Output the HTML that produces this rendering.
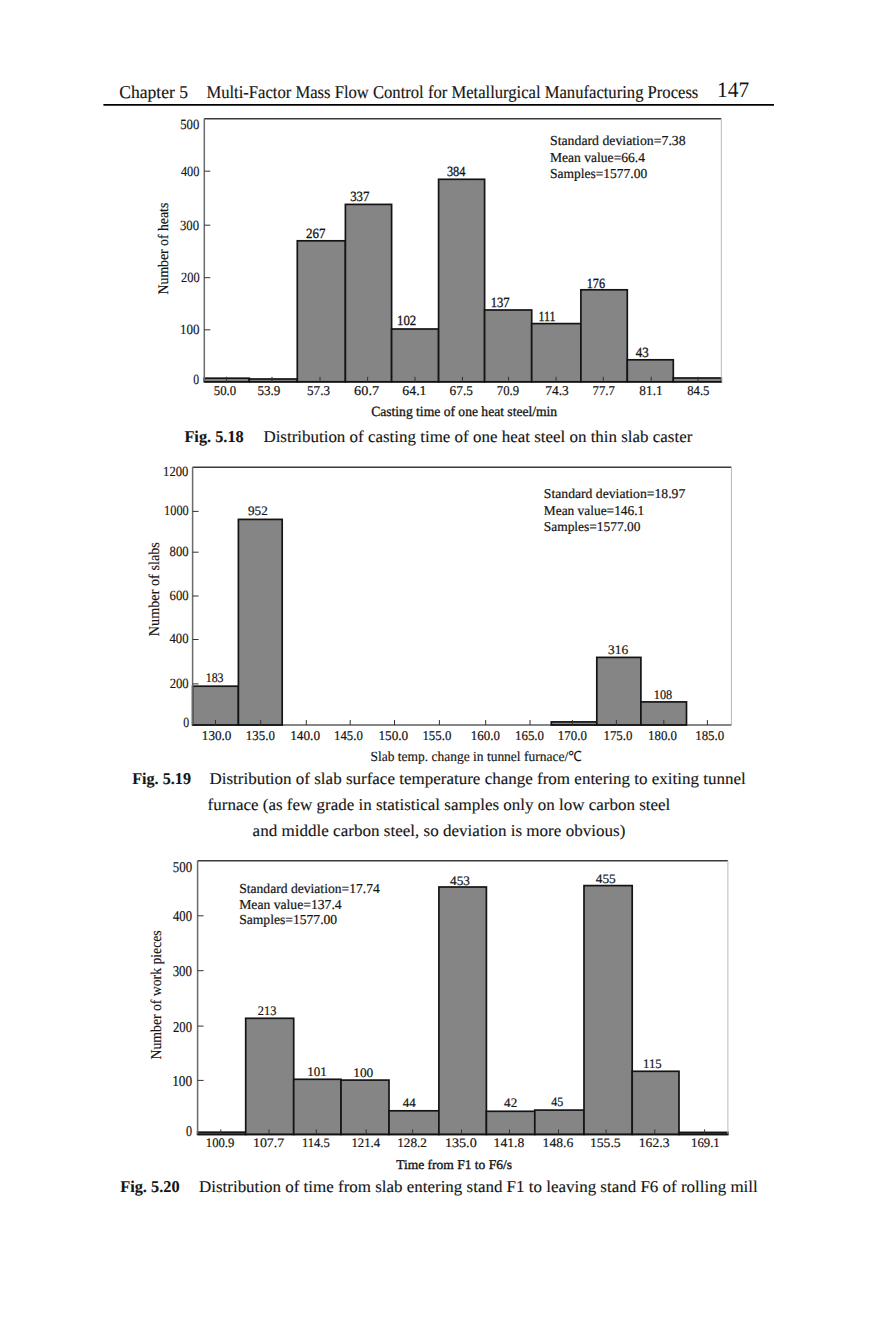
<!DOCTYPE html>
<html><head><meta charset="utf-8"><title>Fig. 5.18 - 5.20</title>
<style>
html,body{margin:0;padding:0;background:#fff;}
body{width:879px;height:1332px;overflow:hidden;}
svg{display:block;font-family:"Liberation Serif", "Times New Roman", serif;fill:#141414;text-rendering:geometricPrecision;}
</style></head><body>
<svg width="879" height="1332" viewBox="0 0 879 1332">
<line x1="103.4" y1="104.85" x2="774" y2="104.85" stroke="#000" stroke-width="1.8"/>
<rect x="204.30" y="378.20" width="45.00" height="3.60" fill="#858585" stroke="#141414" stroke-width="1.7"/>
<rect x="249.30" y="379.00" width="48.00" height="2.80" fill="#858585" stroke="#141414" stroke-width="1.7"/>
<rect x="297.30" y="240.80" width="48.10" height="141.00" fill="#858585" stroke="#141414" stroke-width="1.7"/>
<rect x="345.40" y="204.40" width="46.20" height="177.40" fill="#858585" stroke="#141414" stroke-width="1.7"/>
<rect x="391.60" y="329.00" width="47.00" height="52.80" fill="#858585" stroke="#141414" stroke-width="1.7"/>
<rect x="438.60" y="179.30" width="46.00" height="202.50" fill="#858585" stroke="#141414" stroke-width="1.7"/>
<rect x="484.60" y="310.00" width="47.10" height="71.80" fill="#858585" stroke="#141414" stroke-width="1.7"/>
<rect x="531.70" y="323.60" width="49.20" height="58.20" fill="#858585" stroke="#141414" stroke-width="1.7"/>
<rect x="580.90" y="289.80" width="46.40" height="92.00" fill="#858585" stroke="#141414" stroke-width="1.7"/>
<rect x="627.30" y="359.80" width="46.00" height="22.00" fill="#858585" stroke="#141414" stroke-width="1.7"/>
<rect x="673.30" y="378.00" width="48.00" height="3.80" fill="#858585" stroke="#141414" stroke-width="1.7"/>
<line x1="204.3" y1="118.75" x2="721.3" y2="118.75" stroke="#3a3a3a" stroke-width="1.6"/>
<line x1="204.3" y1="118.75" x2="204.3" y2="381.8" stroke="#6a6a6a" stroke-width="1.5"/>
<line x1="721.3" y1="118.75" x2="721.3" y2="381.8" stroke="#b8b8b8" stroke-width="1.0"/>
<line x1="204.3" y1="381.8" x2="721.3" y2="381.8" stroke="#111" stroke-width="1.5"/>
<line x1="204.3" y1="329.8" x2="210.3" y2="329.8" stroke="#333" stroke-width="1.0"/>
<line x1="204.3" y1="277.7" x2="210.3" y2="277.7" stroke="#333" stroke-width="1.0"/>
<line x1="204.3" y1="225.2" x2="210.3" y2="225.2" stroke="#333" stroke-width="1.0"/>
<line x1="204.3" y1="171.2" x2="210.3" y2="171.2" stroke="#333" stroke-width="1.0"/>
<line x1="226.6" y1="381.8" x2="226.6" y2="376.8" stroke="#333" stroke-width="1.0"/>
<line x1="272" y1="381.8" x2="272" y2="376.8" stroke="#333" stroke-width="1.0"/>
<line x1="320" y1="381.8" x2="320" y2="376.8" stroke="#333" stroke-width="1.0"/>
<line x1="367.6" y1="381.8" x2="367.6" y2="376.8" stroke="#333" stroke-width="1.0"/>
<line x1="415" y1="381.8" x2="415" y2="376.8" stroke="#333" stroke-width="1.0"/>
<line x1="462.4" y1="381.8" x2="462.4" y2="376.8" stroke="#333" stroke-width="1.0"/>
<line x1="508.6" y1="381.8" x2="508.6" y2="376.8" stroke="#333" stroke-width="1.0"/>
<line x1="556.1" y1="381.8" x2="556.1" y2="376.8" stroke="#333" stroke-width="1.0"/>
<line x1="603.3" y1="381.8" x2="603.3" y2="376.8" stroke="#333" stroke-width="1.0"/>
<line x1="651.2" y1="381.8" x2="651.2" y2="376.8" stroke="#333" stroke-width="1.0"/>
<line x1="698" y1="381.8" x2="698" y2="376.8" stroke="#333" stroke-width="1.0"/>
<rect x="192.60" y="686.20" width="45.80" height="38.80" fill="#858585" stroke="#141414" stroke-width="1.7"/>
<rect x="238.40" y="519.40" width="43.80" height="205.60" fill="#858585" stroke="#141414" stroke-width="1.7"/>
<rect x="551.30" y="721.90" width="45.50" height="3.10" fill="#858585" stroke="#141414" stroke-width="1.7"/>
<rect x="596.80" y="657.40" width="44.10" height="67.60" fill="#858585" stroke="#141414" stroke-width="1.7"/>
<rect x="640.90" y="701.90" width="45.60" height="23.10" fill="#858585" stroke="#141414" stroke-width="1.7"/>
<line x1="192.6" y1="467.2" x2="731.4" y2="467.2" stroke="#3a3a3a" stroke-width="1.6"/>
<line x1="192.6" y1="467.2" x2="192.6" y2="725.0" stroke="#6a6a6a" stroke-width="1.5"/>
<line x1="731.4" y1="467.2" x2="731.4" y2="725.0" stroke="#b8b8b8" stroke-width="1.0"/>
<line x1="192.6" y1="725.0" x2="731.4" y2="725.0" stroke="#111" stroke-width="1.2"/>
<line x1="192.6" y1="683.9" x2="198.6" y2="683.9" stroke="#333" stroke-width="1.0"/>
<line x1="192.6" y1="639.5" x2="198.6" y2="639.5" stroke="#333" stroke-width="1.0"/>
<line x1="192.6" y1="596.0" x2="198.6" y2="596.0" stroke="#333" stroke-width="1.0"/>
<line x1="192.6" y1="552.2" x2="198.6" y2="552.2" stroke="#333" stroke-width="1.0"/>
<line x1="192.6" y1="511.4" x2="198.6" y2="511.4" stroke="#333" stroke-width="1.0"/>
<line x1="215.5" y1="725.0" x2="215.5" y2="720.0" stroke="#333" stroke-width="1.0"/>
<line x1="260.7" y1="725.0" x2="260.7" y2="720.0" stroke="#333" stroke-width="1.0"/>
<line x1="306.3" y1="725.0" x2="306.3" y2="720.0" stroke="#333" stroke-width="1.0"/>
<line x1="350.2" y1="725.0" x2="350.2" y2="720.0" stroke="#333" stroke-width="1.0"/>
<line x1="394.5" y1="725.0" x2="394.5" y2="720.0" stroke="#333" stroke-width="1.0"/>
<line x1="439.4" y1="725.0" x2="439.4" y2="720.0" stroke="#333" stroke-width="1.0"/>
<line x1="485.7" y1="725.0" x2="485.7" y2="720.0" stroke="#333" stroke-width="1.0"/>
<line x1="530" y1="725.0" x2="530" y2="720.0" stroke="#333" stroke-width="1.0"/>
<line x1="572.4" y1="725.0" x2="572.4" y2="720.0" stroke="#333" stroke-width="1.0"/>
<line x1="616.4" y1="725.0" x2="616.4" y2="720.0" stroke="#333" stroke-width="1.0"/>
<line x1="663.8" y1="725.0" x2="663.8" y2="720.0" stroke="#333" stroke-width="1.0"/>
<line x1="707.4" y1="725.0" x2="707.4" y2="720.0" stroke="#333" stroke-width="1.0"/>
<rect x="197.60" y="1132.20" width="48.10" height="2.20" fill="#858585" stroke="#141414" stroke-width="1.7"/>
<rect x="245.70" y="1018.30" width="48.00" height="116.10" fill="#858585" stroke="#141414" stroke-width="1.7"/>
<rect x="293.70" y="1079.30" width="47.30" height="55.10" fill="#858585" stroke="#141414" stroke-width="1.7"/>
<rect x="341.00" y="1080.10" width="48.00" height="54.30" fill="#858585" stroke="#141414" stroke-width="1.7"/>
<rect x="389.00" y="1110.80" width="49.90" height="23.60" fill="#858585" stroke="#141414" stroke-width="1.7"/>
<rect x="438.90" y="887.00" width="47.50" height="247.40" fill="#858585" stroke="#141414" stroke-width="1.7"/>
<rect x="486.40" y="1111.30" width="48.40" height="23.10" fill="#858585" stroke="#141414" stroke-width="1.7"/>
<rect x="534.80" y="1110.10" width="49.20" height="24.30" fill="#858585" stroke="#141414" stroke-width="1.7"/>
<rect x="584.00" y="885.60" width="48.20" height="248.80" fill="#858585" stroke="#141414" stroke-width="1.7"/>
<rect x="632.20" y="1071.30" width="46.80" height="63.10" fill="#858585" stroke="#141414" stroke-width="1.7"/>
<rect x="679.00" y="1132.40" width="48.90" height="2.00" fill="#858585" stroke="#141414" stroke-width="1.7"/>
<line x1="197.6" y1="860.7" x2="727.9" y2="860.7" stroke="#3a3a3a" stroke-width="1.6"/>
<line x1="197.6" y1="860.7" x2="197.6" y2="1134.4" stroke="#6a6a6a" stroke-width="1.5"/>
<line x1="727.9" y1="860.7" x2="727.9" y2="1134.4" stroke="#b8b8b8" stroke-width="1.0"/>
<line x1="197.6" y1="1134.4" x2="727.9" y2="1134.4" stroke="#111" stroke-width="1.5"/>
<line x1="197.6" y1="1080.4" x2="203.6" y2="1080.4" stroke="#333" stroke-width="1.0"/>
<line x1="197.6" y1="1026.1" x2="203.6" y2="1026.1" stroke="#333" stroke-width="1.0"/>
<line x1="197.6" y1="970.7" x2="203.6" y2="970.7" stroke="#333" stroke-width="1.0"/>
<line x1="197.6" y1="915.8" x2="203.6" y2="915.8" stroke="#333" stroke-width="1.0"/>
<line x1="220.8" y1="1134.4" x2="220.8" y2="1129.4" stroke="#333" stroke-width="1.0"/>
<line x1="269" y1="1134.4" x2="269" y2="1129.4" stroke="#333" stroke-width="1.0"/>
<line x1="316.3" y1="1134.4" x2="316.3" y2="1129.4" stroke="#333" stroke-width="1.0"/>
<line x1="366.2" y1="1134.4" x2="366.2" y2="1129.4" stroke="#333" stroke-width="1.0"/>
<line x1="412.6" y1="1134.4" x2="412.6" y2="1129.4" stroke="#333" stroke-width="1.0"/>
<line x1="461.5" y1="1134.4" x2="461.5" y2="1129.4" stroke="#333" stroke-width="1.0"/>
<line x1="509.5" y1="1134.4" x2="509.5" y2="1129.4" stroke="#333" stroke-width="1.0"/>
<line x1="558.5" y1="1134.4" x2="558.5" y2="1129.4" stroke="#333" stroke-width="1.0"/>
<line x1="606.1" y1="1134.4" x2="606.1" y2="1129.4" stroke="#333" stroke-width="1.0"/>
<line x1="654.8" y1="1134.4" x2="654.8" y2="1129.4" stroke="#333" stroke-width="1.0"/>
<line x1="704.6" y1="1134.4" x2="704.6" y2="1129.4" stroke="#333" stroke-width="1.0"/>
<text id="t0" x="119.19" y="97.5" font-size="18" textLength="68.76" lengthAdjust="spacingAndGlyphs" stroke="#141414" stroke-width="0.15">Chapter 5</text>
<text id="t1" x="206.43" y="97.5" font-size="18" textLength="491.92" lengthAdjust="spacingAndGlyphs" stroke="#141414" stroke-width="0.15">Multi-Factor Mass Flow Control for Metallurgical Manufacturing Process</text>
<text id="t2" x="717.01" y="96.8" font-size="22" textLength="32.12" lengthAdjust="spacingAndGlyphs">147</text>
<text id="t3" x="193.35" y="383.6" font-size="14" textLength="5.87" lengthAdjust="spacingAndGlyphs" stroke="#141414" stroke-width="0.15">0</text>
<text id="t4" x="180.08" y="334.2" font-size="14" textLength="19.51" lengthAdjust="spacingAndGlyphs" stroke="#141414" stroke-width="0.15">100</text>
<text id="t5" x="181.04" y="282.0" font-size="14" textLength="18.58" lengthAdjust="spacingAndGlyphs" stroke="#141414" stroke-width="0.15">200</text>
<text id="t6" x="180.00" y="229.5" font-size="14" textLength="19.07" lengthAdjust="spacingAndGlyphs" stroke="#141414" stroke-width="0.15">300</text>
<text id="t7" x="180.92" y="176.0" font-size="14" textLength="18.50" lengthAdjust="spacingAndGlyphs" stroke="#141414" stroke-width="0.15">400</text>
<text id="t8" x="180.18" y="128.5" font-size="14" textLength="19.08" lengthAdjust="spacingAndGlyphs" stroke="#141414" stroke-width="0.15">500</text>
<text id="t9" x="213.77" y="394.7" font-size="13.5" textLength="22.37" lengthAdjust="spacingAndGlyphs" stroke="#141414" stroke-width="0.2">50.0</text>
<text id="t10" x="257.39" y="394.7" font-size="13.5" textLength="22.92" lengthAdjust="spacingAndGlyphs" stroke="#141414" stroke-width="0.2">53.9</text>
<text id="t11" x="307.00" y="394.7" font-size="13.5" textLength="23.00" lengthAdjust="spacingAndGlyphs" stroke="#141414" stroke-width="0.2">57.3</text>
<text id="t12" x="354.14" y="394.7" font-size="13.5" textLength="24.97" lengthAdjust="spacingAndGlyphs" stroke="#141414" stroke-width="0.2">60.7</text>
<text id="t13" x="402.39" y="394.7" font-size="13.5" textLength="24.07" lengthAdjust="spacingAndGlyphs" stroke="#141414" stroke-width="0.2">64.1</text>
<text id="t14" x="449.61" y="394.7" font-size="13.5" textLength="23.26" lengthAdjust="spacingAndGlyphs" stroke="#141414" stroke-width="0.2">67.5</text>
<text id="t15" x="496.83" y="394.7" font-size="13.5" textLength="22.29" lengthAdjust="spacingAndGlyphs" stroke="#141414" stroke-width="0.2">70.9</text>
<text id="t16" x="545.37" y="394.7" font-size="13.5" textLength="23.39" lengthAdjust="spacingAndGlyphs" stroke="#141414" stroke-width="0.2">74.3</text>
<text id="t17" x="592.60" y="394.7" font-size="13.5" textLength="22.33" lengthAdjust="spacingAndGlyphs" stroke="#141414" stroke-width="0.2">77.7</text>
<text id="t18" x="639.33" y="394.7" font-size="13.5" textLength="23.28" lengthAdjust="spacingAndGlyphs" stroke="#141414" stroke-width="0.2">81.1</text>
<text id="t19" x="687.16" y="394.7" font-size="13.5" textLength="22.33" lengthAdjust="spacingAndGlyphs" stroke="#141414" stroke-width="0.2">84.5</text>
<text id="t20" x="305.96" y="238.4" font-size="14" textLength="19.50" lengthAdjust="spacingAndGlyphs" stroke="#141414" stroke-width="0.3">267</text>
<text id="t21" x="350.14" y="201.2" font-size="14" textLength="19.32" lengthAdjust="spacingAndGlyphs" stroke="#141414" stroke-width="0.3">337</text>
<text id="t22" x="397.06" y="325.3" font-size="14" textLength="19.21" lengthAdjust="spacingAndGlyphs" stroke="#141414" stroke-width="0.3">102</text>
<text id="t23" x="446.95" y="175.5" font-size="14" textLength="18.55" lengthAdjust="spacingAndGlyphs" stroke="#141414" stroke-width="0.3">384</text>
<text id="t24" x="490.65" y="306.5" font-size="14" textLength="19.03" lengthAdjust="spacingAndGlyphs" stroke="#141414" stroke-width="0.3">137</text>
<text id="t25" x="538.53" y="321.2" font-size="14" textLength="17.07" lengthAdjust="spacingAndGlyphs" stroke="#141414" stroke-width="0.3">111</text>
<text id="t26" x="586.68" y="287.7" font-size="14" textLength="18.36" lengthAdjust="spacingAndGlyphs" stroke="#141414" stroke-width="0.3">176</text>
<text id="t27" x="635.66" y="357" font-size="14" textLength="13.01" lengthAdjust="spacingAndGlyphs" stroke="#141414" stroke-width="0.3">43</text>
<text id="t28" x="550.00" y="145.0" font-size="13.7" textLength="135.61" lengthAdjust="spacingAndGlyphs" stroke="#141414" stroke-width="0.2">Standard deviation=7.38</text>
<text id="t29" x="550.00" y="161.9" font-size="13.7" textLength="95.01" lengthAdjust="spacingAndGlyphs" stroke="#141414" stroke-width="0.2">Mean value=66.4</text>
<text id="t30" x="550.00" y="177.8" font-size="13.7" textLength="97.19" lengthAdjust="spacingAndGlyphs" stroke="#141414" stroke-width="0.2">Samples=1577.00</text>
<text id="t31" x="371.20" y="416.4" font-size="14" textLength="185.98" lengthAdjust="spacingAndGlyphs" stroke="#141414" stroke-width="0.3">Casting time of one heat steel/min</text>
<text id="t32" x="0" y="0" font-size="14.5" textLength="91.65" lengthAdjust="spacingAndGlyphs" stroke="#141414" stroke-width="0.2" transform="translate(167.7,294.40) rotate(-90)">Number of heats</text>
<text id="t33" x="184.39" y="442.3" font-size="16.5" font-weight="bold" textLength="59.39" lengthAdjust="spacingAndGlyphs" stroke="#141414" stroke-width="0.1">Fig. 5.18</text>
<text id="t34" x="263.41" y="442.4" font-size="16.5" textLength="428.93" lengthAdjust="spacingAndGlyphs" stroke="#141414" stroke-width="0.12">Distribution of casting time of one heat steel on thin slab caster</text>
<text id="t35" x="183.36" y="726.6" font-size="14" textLength="5.88" lengthAdjust="spacingAndGlyphs" stroke="#141414" stroke-width="0.15">0</text>
<text id="t36" x="169.64" y="687.6" font-size="14" textLength="19.07" lengthAdjust="spacingAndGlyphs" stroke="#141414" stroke-width="0.15">200</text>
<text id="t37" x="169.48" y="643.2" font-size="14" textLength="19.12" lengthAdjust="spacingAndGlyphs" stroke="#141414" stroke-width="0.15">400</text>
<text id="t38" x="169.57" y="599.7" font-size="14" textLength="19.03" lengthAdjust="spacingAndGlyphs" stroke="#141414" stroke-width="0.15">600</text>
<text id="t39" x="169.57" y="555.9" font-size="14" textLength="19.03" lengthAdjust="spacingAndGlyphs" stroke="#141414" stroke-width="0.15">800</text>
<text id="t40" x="164.08" y="514.8" font-size="14" textLength="24.67" lengthAdjust="spacingAndGlyphs" stroke="#141414" stroke-width="0.15">1000</text>
<text id="t41" x="163.10" y="476.3" font-size="14" textLength="25.23" lengthAdjust="spacingAndGlyphs" stroke="#141414" stroke-width="0.15">1200</text>
<text id="t42" x="201.82" y="739.6" font-size="13.5" textLength="29.57" lengthAdjust="spacingAndGlyphs" stroke="#141414" stroke-width="0.2">130.0</text>
<text id="t43" x="245.83" y="739.6" font-size="13.5" textLength="29.05" lengthAdjust="spacingAndGlyphs" stroke="#141414" stroke-width="0.2">135.0</text>
<text id="t44" x="290.21" y="739.6" font-size="13.5" textLength="29.88" lengthAdjust="spacingAndGlyphs" stroke="#141414" stroke-width="0.2">140.0</text>
<text id="t45" x="334.07" y="739.6" font-size="13.5" textLength="28.74" lengthAdjust="spacingAndGlyphs" stroke="#141414" stroke-width="0.2">145.0</text>
<text id="t46" x="378.42" y="739.6" font-size="13.5" textLength="29.78" lengthAdjust="spacingAndGlyphs" stroke="#141414" stroke-width="0.2">150.0</text>
<text id="t47" x="422.43" y="739.6" font-size="13.5" textLength="28.88" lengthAdjust="spacingAndGlyphs" stroke="#141414" stroke-width="0.2">155.0</text>
<text id="t48" x="470.85" y="739.6" font-size="13.5" textLength="28.97" lengthAdjust="spacingAndGlyphs" stroke="#141414" stroke-width="0.2">160.0</text>
<text id="t49" x="515.03" y="739.6" font-size="13.5" textLength="28.97" lengthAdjust="spacingAndGlyphs" stroke="#141414" stroke-width="0.2">165.0</text>
<text id="t50" x="557.85" y="739.6" font-size="13.5" textLength="28.97" lengthAdjust="spacingAndGlyphs" stroke="#141414" stroke-width="0.2">170.0</text>
<text id="t51" x="603.45" y="739.6" font-size="13.5" textLength="28.97" lengthAdjust="spacingAndGlyphs" stroke="#141414" stroke-width="0.2">175.0</text>
<text id="t52" x="648.03" y="739.6" font-size="13.5" textLength="28.97" lengthAdjust="spacingAndGlyphs" stroke="#141414" stroke-width="0.2">180.0</text>
<text id="t53" x="695.23" y="739.6" font-size="13.5" textLength="28.94" lengthAdjust="spacingAndGlyphs" stroke="#141414" stroke-width="0.2">185.0</text>
<text id="t54" x="205.67" y="682.2" font-size="13" textLength="17.95" lengthAdjust="spacingAndGlyphs" stroke="#141414" stroke-width="0.2">183</text>
<text id="t55" x="248.00" y="514.8" font-size="13" textLength="19.70" lengthAdjust="spacingAndGlyphs" stroke="#141414" stroke-width="0.2">952</text>
<text id="t56" x="608.14" y="653.7" font-size="13" textLength="20.10" lengthAdjust="spacingAndGlyphs" stroke="#141414" stroke-width="0.2">316</text>
<text id="t57" x="653.83" y="698.6" font-size="13" textLength="18.33" lengthAdjust="spacingAndGlyphs" stroke="#141414" stroke-width="0.2">108</text>
<text id="t58" x="543.80" y="498.0" font-size="13.5" textLength="141.51" lengthAdjust="spacingAndGlyphs" stroke="#141414" stroke-width="0.2">Standard deviation=18.97</text>
<text id="t59" x="543.80" y="514.8" font-size="13.5" textLength="100.49" lengthAdjust="spacingAndGlyphs" stroke="#141414" stroke-width="0.2">Mean value=146.1</text>
<text id="t60" x="543.81" y="531.3" font-size="13.5" textLength="96.70" lengthAdjust="spacingAndGlyphs" stroke="#141414" stroke-width="0.2">Samples=1577.00</text>
<text id="t61" x="370.41" y="761.3" font-size="14" textLength="211.17" lengthAdjust="spacingAndGlyphs" stroke="#141414" stroke-width="0.15">Slab temp. change in tunnel furnace/℃</text>
<text id="t62" x="0" y="0" font-size="15" textLength="94.05" lengthAdjust="spacingAndGlyphs" stroke="#141414" stroke-width="0.15" transform="translate(158.5,636.20) rotate(-90)">Number of slabs</text>
<text id="t63" x="132.18" y="783.5" font-size="16.5" font-weight="bold" textLength="58.81" lengthAdjust="spacingAndGlyphs" stroke="#141414" stroke-width="0.1">Fig. 5.19</text>
<text id="t64" x="209.42" y="783.5" font-size="16.5" textLength="536.33" lengthAdjust="spacingAndGlyphs" stroke="#141414" stroke-width="0.12">Distribution of slab surface temperature change from entering to exiting tunnel</text>
<text id="t65" x="207.58" y="809.8" font-size="16.5" textLength="462.73" lengthAdjust="spacingAndGlyphs" stroke="#141414" stroke-width="0.12">furnace (as few grade in statistical samples only on low carbon steel</text>
<text id="t66" x="252.60" y="835.8" font-size="16.5" textLength="372.73" lengthAdjust="spacingAndGlyphs" stroke="#141414" stroke-width="0.12">and middle carbon steel, so deviation is more obvious)</text>
<text id="t67" x="186.00" y="1136.1" font-size="15" textLength="6.04" lengthAdjust="spacingAndGlyphs" stroke="#141414" stroke-width="0.2">0</text>
<text id="t68" x="172.13" y="1085.9" font-size="15" textLength="19.98" lengthAdjust="spacingAndGlyphs" stroke="#141414" stroke-width="0.2">100</text>
<text id="t69" x="173.00" y="1031.6" font-size="15" textLength="18.99" lengthAdjust="spacingAndGlyphs" stroke="#141414" stroke-width="0.2">200</text>
<text id="t70" x="172.63" y="976.2" font-size="15" textLength="19.29" lengthAdjust="spacingAndGlyphs" stroke="#141414" stroke-width="0.2">300</text>
<text id="t71" x="173.00" y="921.3" font-size="15" textLength="18.99" lengthAdjust="spacingAndGlyphs" stroke="#141414" stroke-width="0.2">400</text>
<text id="t72" x="172.73" y="871.8" font-size="15" textLength="19.39" lengthAdjust="spacingAndGlyphs" stroke="#141414" stroke-width="0.2">500</text>
<text id="t73" x="205.82" y="1147.0" font-size="13" textLength="28.57" lengthAdjust="spacingAndGlyphs" stroke="#141414" stroke-width="0.2">100.9</text>
<text id="t74" x="252.92" y="1147.0" font-size="13" textLength="31.38" lengthAdjust="spacingAndGlyphs" stroke="#141414" stroke-width="0.2">107.7</text>
<text id="t75" x="302.04" y="1147.0" font-size="13" textLength="27.74" lengthAdjust="spacingAndGlyphs" stroke="#141414" stroke-width="0.2">114.5</text>
<text id="t76" x="351.42" y="1147.0" font-size="13" textLength="28.62" lengthAdjust="spacingAndGlyphs" stroke="#141414" stroke-width="0.2">121.4</text>
<text id="t77" x="397.19" y="1147.0" font-size="13" textLength="29.80" lengthAdjust="spacingAndGlyphs" stroke="#141414" stroke-width="0.2">128.2</text>
<text id="t78" x="444.94" y="1147.0" font-size="13" textLength="31.76" lengthAdjust="spacingAndGlyphs" stroke="#141414" stroke-width="0.2">135.0</text>
<text id="t79" x="493.58" y="1147.0" font-size="13" textLength="30.64" lengthAdjust="spacingAndGlyphs" stroke="#141414" stroke-width="0.2">141.8</text>
<text id="t80" x="542.58" y="1147.0" font-size="13" textLength="30.64" lengthAdjust="spacingAndGlyphs" stroke="#141414" stroke-width="0.2">148.6</text>
<text id="t81" x="589.98" y="1147.0" font-size="13" textLength="30.64" lengthAdjust="spacingAndGlyphs" stroke="#141414" stroke-width="0.2">155.5</text>
<text id="t82" x="638.80" y="1147.0" font-size="13" textLength="30.64" lengthAdjust="spacingAndGlyphs" stroke="#141414" stroke-width="0.2">162.3</text>
<text id="t83" x="691.01" y="1147.0" font-size="13" textLength="28.69" lengthAdjust="spacingAndGlyphs" stroke="#141414" stroke-width="0.2">169.1</text>
<text id="t84" x="257.82" y="1014.8" font-size="13" textLength="18.63" lengthAdjust="spacingAndGlyphs" stroke="#141414" stroke-width="0.2">213</text>
<text id="t85" x="307.20" y="1076.2" font-size="13" textLength="19.59" lengthAdjust="spacingAndGlyphs" stroke="#141414" stroke-width="0.2">101</text>
<text id="t86" x="353.22" y="1077.4" font-size="13" textLength="20.00" lengthAdjust="spacingAndGlyphs" stroke="#141414" stroke-width="0.2">100</text>
<text id="t87" x="402.72" y="1107.4" font-size="13" textLength="12.96" lengthAdjust="spacingAndGlyphs" stroke="#141414" stroke-width="0.2">44</text>
<text id="t88" x="450.00" y="885" font-size="13" textLength="20.00" lengthAdjust="spacingAndGlyphs" stroke="#141414" stroke-width="0.2">453</text>
<text id="t89" x="504.13" y="1107.1" font-size="13" textLength="13.12" lengthAdjust="spacingAndGlyphs" stroke="#141414" stroke-width="0.2">42</text>
<text id="t90" x="551.31" y="1106.3" font-size="13" textLength="12.00" lengthAdjust="spacingAndGlyphs" stroke="#141414" stroke-width="0.2">45</text>
<text id="t91" x="595.75" y="883" font-size="13" textLength="19.95" lengthAdjust="spacingAndGlyphs" stroke="#141414" stroke-width="0.2">455</text>
<text id="t92" x="643.02" y="1068" font-size="13" textLength="18.61" lengthAdjust="spacingAndGlyphs" stroke="#141414" stroke-width="0.2">115</text>
<text id="t93" x="239.20" y="892.6" font-size="13.7" textLength="140.60" lengthAdjust="spacingAndGlyphs" stroke="#141414" stroke-width="0.2">Standard deviation=17.74</text>
<text id="t94" x="239.18" y="908.5" font-size="13.7" textLength="102.52" lengthAdjust="spacingAndGlyphs" stroke="#141414" stroke-width="0.2">Mean value=137.4</text>
<text id="t95" x="239.20" y="924.4" font-size="13.7" textLength="97.99" lengthAdjust="spacingAndGlyphs" stroke="#141414" stroke-width="0.2">Samples=1577.00</text>
<text id="t96" x="396.20" y="1169.2" font-size="13.3" textLength="115.82" lengthAdjust="spacingAndGlyphs" stroke="#141414" stroke-width="0.35">Time from F1 to F6/s</text>
<text id="t97" x="0" y="0" font-size="15" textLength="129.11" lengthAdjust="spacingAndGlyphs" stroke="#141414" stroke-width="0.15" transform="translate(161.4,1059.40) rotate(-90)">Number of work pieces</text>
<text id="t98" x="120.18" y="1192.4" font-size="16.5" font-weight="bold" textLength="59.43" lengthAdjust="spacingAndGlyphs" stroke="#141414" stroke-width="0.1">Fig. 5.20</text>
<text id="t99" x="199.00" y="1192.3" font-size="16.5" textLength="558.73" lengthAdjust="spacingAndGlyphs" stroke="#141414" stroke-width="0.12">Distribution of time from slab entering stand F1 to leaving stand F6 of rolling mill</text>
</svg>
</body></html>
